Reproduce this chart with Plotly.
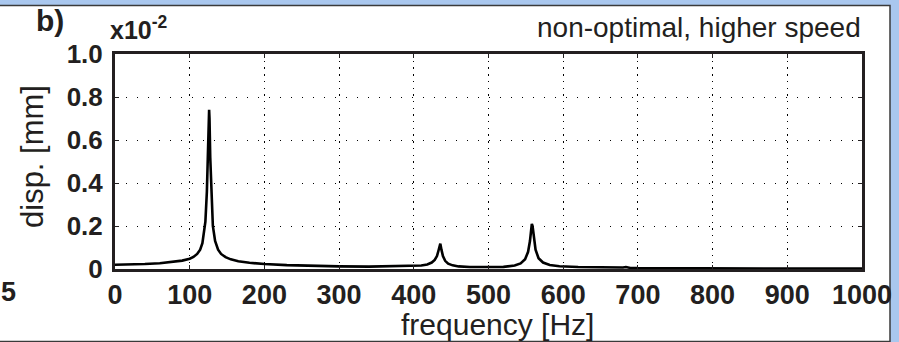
import plotly.graph_objects as go

# frequency [Hz] and displacement [x10^-2 mm]
freq = [0, 20, 40, 60, 80, 90, 100, 105, 110, 114, 117, 119, 121, 123, 124.5,
        125.5, 126, 126.5, 127.5, 129, 131, 134, 138, 142, 148, 155, 165, 180,
        200, 230, 260, 300, 340, 380, 400, 410, 418, 424, 428, 431, 433, 434.5,
        435.5, 437, 439, 442, 446, 452, 460, 475, 500, 520, 535, 543, 549, 553,
        555.5, 557, 558, 559, 560.5, 563, 567, 573, 582, 595, 620, 650, 670,
        680, 684, 686, 690, 700, 750, 800, 900, 1000]
disp = [0.020, 0.021, 0.023, 0.027, 0.033, 0.039, 0.048, 0.056, 0.070, 0.090,
        0.120, 0.160, 0.220, 0.360, 0.530, 0.700, 0.740, 0.700, 0.520, 0.330,
        0.200, 0.130, 0.090, 0.070, 0.055, 0.045, 0.036, 0.029, 0.023, 0.018,
        0.015, 0.012, 0.011, 0.012, 0.013, 0.016, 0.021, 0.030, 0.042, 0.060,
        0.085, 0.115, 0.118, 0.090, 0.060, 0.038, 0.025, 0.017, 0.012, 0.009,
        0.008, 0.010, 0.016, 0.026, 0.045, 0.080, 0.130, 0.190, 0.210, 0.200,
        0.150, 0.090, 0.050, 0.030, 0.019, 0.013, 0.009, 0.007, 0.006, 0.007,
        0.009, 0.008, 0.005, 0.004, 0.003, 0.003, 0.002, 0.002]

x_ticks = [0, 100, 200, 300, 400, 500, 600, 700, 800, 900, 1000]
x_labels = ["0", "100", "200", "300", "400", "500", "600", "700", "800", "900", "1000"]
y_ticks = [0, 0.2, 0.4, 0.6, 0.8, 1.0]
y_labels = ["0", "0.2", "0.4", "0.6", "0.8", "1.0"]

W, H = 899, 342
L, R, T, B = 115, 862, 54, 269
pw, ph = R - L, B - T


def px(x):
    return (x - L) / pw


def py(y):
    return (B - y) / ph


INK = "#231f20"
FONT = "Liberation Sans, Arial, sans-serif"

fig = go.Figure()
fig.add_trace(go.Scatter(x=freq, y=disp, mode="lines",
                         line=dict(color="#000000", width=2.6),
                         hoverinfo="skip", showlegend=False))

fig.update_layout(
    template="none",
    width=W, height=H,
    margin=dict(l=L, r=W - R, t=T, b=H - B, pad=0),
    paper_bgcolor="#a9c7ee",
    plot_bgcolor="white",
    showlegend=False,
    xaxis=dict(range=[0, 1000], tickvals=x_ticks, ticktext=x_labels,
               automargin=False,
               showline=True, linewidth=3, linecolor=INK, mirror="ticks",
               ticks="inside", ticklen=4, tickwidth=1, tickcolor=INK,
               showgrid=True, gridcolor="#000000", gridwidth=1.4,
               griddash="1.4px,5.3px", zeroline=False,
               tickfont=dict(family=FONT, size=27, color=INK, weight="bold"),
               ticklabelstandoff=0),
    yaxis=dict(range=[0, 1.0], tickvals=y_ticks, ticktext=y_labels,
               automargin=False,
               showline=True, linewidth=3, linecolor=INK, mirror="ticks",
               ticks="inside", ticklen=4, tickwidth=1, tickcolor=INK,
               showgrid=True, gridcolor="#000000", gridwidth=1.4,
               griddash="1.4px,9.6px", zeroline=False,
               tickfont=dict(family=FONT, size=26, color=INK, weight="bold"),
               ticklabelstandoff=4),
)

# white panel with thin dark border over the blue background
fig.add_shape(type="rect", xref="paper", yref="paper", layer="below",
              x0=px(-3), x1=px(890), y0=py(341.5), y1=py(5.5),
              fillcolor="white", line=dict(color="#3a3a3a", width=1.5))

fig.add_annotation(xref="paper", yref="paper", x=px(50), y=py(21),
                   xanchor="center", yanchor="middle",
                   text="<b>b)</b>", showarrow=False,
                   font=dict(family=FONT, size=30, color=INK))
fig.add_annotation(xref="paper", yref="paper", x=px(108), y=py(28),
                   xanchor="left", yanchor="middle",
                   text="<b>x10<sup>-2</sup></b>", showarrow=False,
                   font=dict(family=FONT, size=25, color=INK))
fig.add_annotation(xref="paper", yref="paper", x=px(863), y=py(27),
                   xanchor="right", yanchor="middle",
                   text="non-optimal, higher speed", showarrow=False,
                   font=dict(family=FONT, size=28, color=INK))
fig.add_annotation(xref="paper", yref="paper", x=px(497), y=py(324),
                   xanchor="center", yanchor="middle",
                   text="frequency [Hz]", showarrow=False,
                   font=dict(family=FONT, size=30, color=INK))
fig.add_annotation(xref="paper", yref="paper", x=px(32), y=py(157),
                   xanchor="center", yanchor="middle", textangle=-90,
                   text="disp. [mm]", showarrow=False,
                   font=dict(family=FONT, size=31, color=INK))
fig.add_annotation(xref="paper", yref="paper", x=px(-1), y=py(292),
                   xanchor="left", yanchor="middle",
                   text="<b>5</b>", showarrow=False,
                   font=dict(family=FONT, size=27, color=INK))

fig.write_html("out.html")
